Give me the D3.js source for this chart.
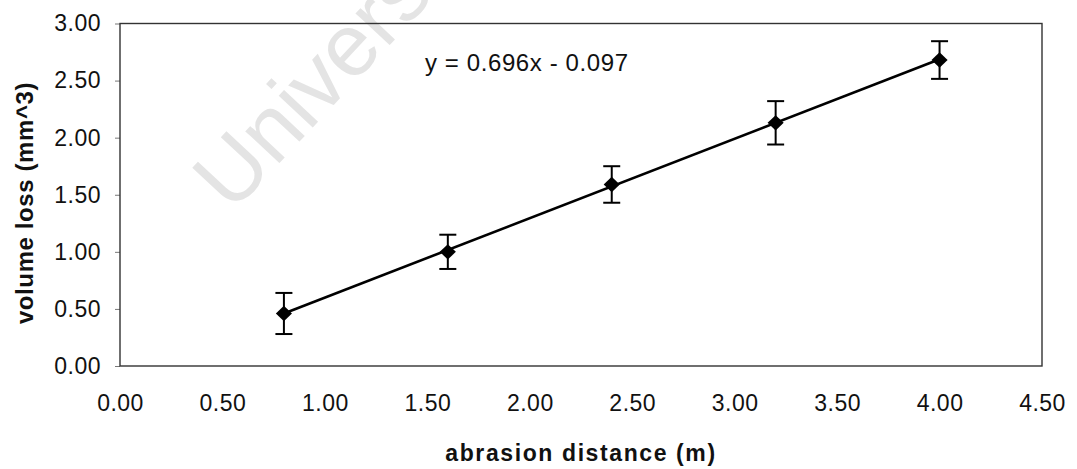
<!DOCTYPE html>
<html>
<head>
<meta charset="utf-8">
<script src="https://cdn.jsdelivr.net/npm/d3@7"></script>
<style>
  html, body { margin: 0; padding: 0; background: #fff; }
  svg { display: block; }
  text { font-family: "Liberation Sans", Arial, sans-serif; }
</style>
</head>
<body>
<svg id="chart" width="1077" height="469"></svg>
<script>
// Abrasion test: volume loss against abrasion distance
const distance = [0.8, 1.6, 2.4, 3.2, 4.0];          // m
const volumeLoss = [0.46, 1.00, 1.59, 2.13, 2.68];   // mm^3
const errorBar = [0.18, 0.15, 0.16, 0.19, 0.165];    // ± mm^3

const xTicks = [0, 0.5, 1, 1.5, 2, 2.5, 3, 3.5, 4, 4.5];
const yTicks = [0, 0.5, 1, 1.5, 2, 2.5, 3];

// Linear trendline coefficients
const slope = 0.696;
const intercept = -0.097;

const svg = d3.select("#chart");
const W = 1077, H = 469;
const m = { left: 120, right: W - 1042, top: 23.5, bottom: H - 366 };

const x = d3.scaleLinear().domain([0, 4.5]).range([m.left, W - m.right]);
const y = d3.scaleLinear().domain([0, 3]).range([H - m.bottom, m.top]);

// faint background stamp
svg.append("text")
  .attr("transform", "translate(232,214) rotate(-47)")
  .attr("font-size", 88)
  .attr("fill", "#e4e4e4")
  .text("University of Cape Town");

// y axis
const yAxis = svg.append("g")
  .attr("transform", `translate(${m.left},0)`)
  .call(d3.axisLeft(y).tickValues(yTicks).tickFormat(d3.format(".2f")).tickSize(5).tickSizeOuter(0).tickPadding(14));
yAxis.select(".domain").remove();
yAxis.selectAll("line").attr("stroke", "#777");
yAxis.selectAll("text").attr("font-size", 23).attr("fill", "#111").attr("letter-spacing", 0.5)
  .attr("font-family", "'Liberation Sans', Arial, sans-serif");

// x axis
const xAxis = svg.append("g")
  .attr("transform", `translate(0,${H - m.bottom})`)
  .call(d3.axisBottom(x).tickValues(xTicks).tickFormat(d3.format(".2f")).tickSize(0).tickPadding(29));
xAxis.select(".domain").remove();
xAxis.selectAll("text").attr("font-size", 23).attr("fill", "#111").attr("letter-spacing", 0.5)
  .attr("font-family", "'Liberation Sans', Arial, sans-serif");

// plot frame
svg.append("rect")
  .attr("x", x(0)).attr("y", y(3))
  .attr("width", x(4.5) - x(0)).attr("height", y(0) - y(3))
  .attr("fill", "none").attr("stroke", "#333").attr("stroke-width", 1.4);

// trendline across the measured range
const [x0, x1] = d3.extent(distance);
svg.append("line")
  .attr("x1", x(x0)).attr("y1", y(slope * x0 + intercept))
  .attr("x2", x(x1)).attr("y2", y(slope * x1 + intercept))
  .attr("stroke", "#000").attr("stroke-width", 2.6);

// error bars
const pts = distance.map((d, i) => ({ x: d, y: volumeLoss[i], e: errorBar[i] }));
const eb = svg.append("g").attr("stroke", "#000").attr("stroke-width", 2);
const capW = 8.5;
pts.forEach(p => {
  eb.append("line").attr("x1", x(p.x)).attr("x2", x(p.x))
    .attr("y1", y(p.y - p.e)).attr("y2", y(p.y + p.e));
  [p.y - p.e, p.y + p.e].forEach(v => {
    eb.append("line").attr("x1", x(p.x) - capW).attr("x2", x(p.x) + capW)
      .attr("y1", y(v)).attr("y2", y(v));
  });
});

// diamond markers
svg.append("g").selectAll("path").data(pts).join("path")
  .attr("d", d3.symbol(d3.symbolDiamond2, 150))
  .attr("transform", d => `translate(${x(d.x)},${y(d.y)}) scale(1.05,1)`)
  .attr("fill", "#000");

// regression equation
svg.append("text")
  .attr("x", 425).attr("y", 71)
  .attr("font-size", 24).attr("letter-spacing", 0.6).attr("fill", "#111")
  .text("y = 0.696x - 0.097");

// axis titles
svg.append("text")
  .attr("x", (x(0) + x(4.5)) / 2).attr("y", 461)
  .attr("text-anchor", "middle")
  .attr("font-size", 23).attr("font-weight", "bold").attr("letter-spacing", 1.6)
  .attr("fill", "#111")
  .text("abrasion distance (m)");

svg.append("text")
  .attr("transform", "translate(33,203) rotate(-90)")
  .attr("text-anchor", "middle")
  .attr("font-size", 24).attr("font-weight", "bold").attr("letter-spacing", 0.6)
  .attr("fill", "#111")
  .text("volume loss (mm^3)");
</script>
</body>
</html>
